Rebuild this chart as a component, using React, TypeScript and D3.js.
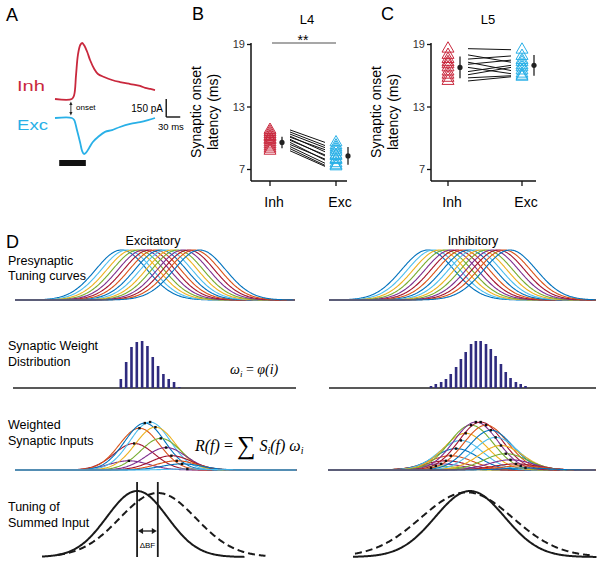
import React from "react";
import * as d3 from "d3";

const FONT = "'Liberation Sans', Arial, Helvetica, sans-serif";
const SERIF = "'Liberation Serif', 'DejaVu Serif', serif";
const RED = "#c9283d";
const CYAN = "#29b0e7";
const NAVY = "#2f2b7e";
const MATLAB = ["#0072BD", "#4DBEEE", "#EDB120", "#77AC30", "#7E2F8E", "#A2142F", "#D95319"];

// Panel A: example currents (time in ms, current in pA)
const inhTime = [0, 36, 41, 45, 49, 54, 58, 62, 69, 75, 84, 92, 105, 122, 139, 161, 182, 193, 204, 214];
const inhCurrent = [0, 0, 32, 189, 347, 426, 442, 426, 371, 308, 237, 197, 174, 150, 134, 118, 103, 87, 79, 71];
const excTime = [0, 36, 41, 47, 54, 58, 62, 66, 73, 81, 92, 107, 122, 139, 161, 182, 199, 214];
const excCurrent = [0, 0, -16, -95, -197, -260, -284, -276, -237, -189, -150, -110, -95, -71, -47, -32, -16, 0];

// Panels B, C: synaptic onset latency (ms)
const groups = ["Inh", "Exc"];
const latencyTicks = [7, 13, 19];
const l4Inh = [10.8, 10.6, 10.4, 10.2, 10.1, 9.9, 9.8, 9.6, 9.4, 9.2, 9.0, 8.8];
const l4Exc = [9.6, 9.3, 9.1, 8.7, 8.9, 8.3, 8.4, 7.9, 8.0, 7.6, 7.4, 7.3];
const l4Mean = [9.6, 8.3];
const l4Sem = [0.55, 0.85];
const l5Inh = [18.6, 18.0, 17.6, 17.3, 17.1, 16.8, 16.4, 16.1, 15.8, 15.5];
const l5Exc = [18.5, 17.3, 17.9, 16.5, 17.5, 16.2, 17.0, 16.8, 16.0, 15.9];
const l5Mean = [16.8, 17.0];
const l5Sem = [1.05, 1.0];

// Panel D: model (frequency in arbitrary units 0-50)
const excTuningCenters = [19, 20, 21, 22, 23, 24, 25, 26, 27, 28, 29, 30, 31, 32, 33];
const inhTuningCenters = [18.5, 19.6, 20.7, 21.8, 22.9, 24.0, 25.1, 26.2, 27.3, 28.4, 29.5, 30.6, 31.7, 32.8, 33.9];
const tuningSigma = [4.6, 4.9];
const excWeightCenters = [18.9, 19.85, 20.8, 21.75, 22.7, 23.65, 24.6, 25.55, 26.5, 27.45, 28.4, 29.35];
const excWeights = [9, 26, 41, 46, 47, 42, 31, 22, 14, 9, 6, 1];
const inhWeightCenters = [19.1, 20.0, 21.0, 21.9, 22.8, 23.8, 24.7, 25.6, 26.6, 27.5, 28.4, 29.4, 30.3, 31.2, 32.2, 33.1, 34.0, 35.0, 35.9, 36.8];
const inhWeights = [2, 4, 6, 9, 14, 21, 29, 36, 44, 47, 47, 44, 39, 32, 24, 16, 10, 6, 4, 2];
const inputSigma = [3.6, 4.1];
// summed tuning: [solid, dashed]
const excSumCenter = [21.8, 25.5];
const excSumSigma = [5.4, 6.8];
const excSumAmp = [1, 0.97];
const inhSumCenter = [26.4, 25.8];
const inhSumSigma = [6.5, 8.6];
const inhSumAmp = [1, 0.98];

const gauss = (f: number, c: number, s: number) => Math.exp(-((f - c) ** 2) / (2 * s * s));

function LatencyPanel(props: {
  letter: string; letterX: number; title: string; titleX: number;
  axisX: number; axisEnd: number; gx: [number, number];
  inh: number[]; exc: number[]; mean: number[]; sem: number[]; sig?: boolean;
}) {
  const { letter, letterX, title, titleX, axisX, axisEnd, gx, inh, exc, mean, sem, sig } = props;
  const y = d3.scaleLinear().domain([7, 19]).range([169.5, 44.5]);
  const x = d3.scalePoint<string>().domain(groups).range(gx);
  const tri = d3.symbol(d3.symbolTriangle, 62)()!;
  const baseY = 181;
  return (
    <g fontFamily={FONT}>
      <text x={letterX} y={20} fontSize={18}>{letter}</text>
      <text x={titleX} y={24} fontSize={13} textAnchor="middle">{title}</text>
      {sig && (
        <g>
          <line x1={x("Inh")! + 2} x2={x("Exc")!} y1={43} y2={43} stroke="#8a8a8a" strokeWidth={1.3} />
          <text x={(x("Inh")! + x("Exc")!) / 2} y={45} fontSize={14} textAnchor="middle">**</text>
        </g>
      )}
      <line x1={axisX} x2={axisX} y1={43} y2={baseY} stroke="#111" strokeWidth={1.5} />
      <line x1={axisX} x2={axisEnd} y1={baseY} y2={baseY} stroke="#111" strokeWidth={1.5} />
      {latencyTicks.map((t) => (
        <g key={t}>
          <line x1={axisX - 4} x2={axisX} y1={y(t)} y2={y(t)} stroke="#111" strokeWidth={1.3} />
          <text x={axisX - 6} y={y(t)} dy="0.36em" fontSize={11} textAnchor="end" fill="#333">{t}</text>
        </g>
      ))}
      {groups.map((g) => (
        <g key={g}>
          <line x1={x(g)} x2={x(g)} y1={baseY} y2={baseY + 5} stroke="#111" strokeWidth={1.3} />
          <text x={x(g)! + 4} y={207} fontSize={14} textAnchor="middle">{g}</text>
        </g>
      ))}
      <text transform={`translate(${axisX - 50},112) rotate(-90)`} fontSize={14} textAnchor="middle">Synaptic onset</text>
      <text transform={`translate(${axisX - 33},112) rotate(-90)`} fontSize={14} textAnchor="middle">latency (ms)</text>
      {inh.map((v, i) => (
        <line key={"l" + i} x1={x("Inh")! + 20} x2={x("Exc")! - 11} y1={y(v)} y2={y(exc[i])} stroke="#111" strokeWidth={1} />
      ))}
      {inh.map((v, i) => (
        <path key={"ti" + i} d={tri} transform={`translate(${x("Inh")},${y(v)})`} fill="none" stroke={RED} strokeWidth={1} />
      ))}
      {exc.map((v, i) => (
        <path key={"te" + i} d={tri} transform={`translate(${x("Exc")},${y(v)})`} fill="none" stroke={CYAN} strokeWidth={1} />
      ))}
      {groups.map((g, i) => (
        <g key={"m" + g}>
          <line x1={x(g)! + 12} x2={x(g)! + 12} y1={y(mean[i] - sem[i])} y2={y(mean[i] + sem[i])} stroke="#222" strokeWidth={1.3} />
          <circle cx={x(g)! + 12} cy={y(mean[i])} r={2.6} fill="#222" />
        </g>
      ))}
    </g>
  );
}

export default function App() {
  // ---- Panel A
  const xA = d3.scaleLinear().domain([0, 214]).range([55, 155]);
  const yInh = d3.scaleLinear().domain([0, 150]).range([99, 80]);
  const yExc = d3.scaleLinear().domain([0, 150]).range([118, 99]);
  const inhPath = d3.line<number>().x((_, i) => xA(inhTime[i])).y((d) => yInh(d)).curve(d3.curveCatmullRom)(inhCurrent)!;
  const excPath = d3.line<number>().x((_, i) => xA(excTime[i])).y((d) => yExc(d)).curve(d3.curveCatmullRom)(excCurrent)!;
  const onsetX = xA(34);

  // ---- Panel D scales
  const xE = d3.scaleLinear().domain([0, 50]).range([15, 295]);
  const xI = d3.scaleLinear().domain([0, 50]).range([329, 596]);
  const xE3 = d3.scaleLinear().domain([0, 50]).range([23, 303]);
  const y1 = d3.scaleLinear().domain([0, 1]).range([300, 250]);
  const y2 = d3.scaleLinear().domain([0, 50]).range([388, 338]);
  const y3 = d3.scaleLinear().domain([0, 50]).range([470, 419]);
  const y4 = d3.scaleLinear().domain([0, 1]).range([557, 491]);

  const sample = (x: d3.ScaleLinear<number, number>, px0: number, px1: number) =>
    d3.range(x.invert(px0), x.invert(px1) + 0.001, 0.15);

  const curve = (x: d3.ScaleLinear<number, number>, y: d3.ScaleLinear<number, number>, fs: number[], fn: (f: number) => number) =>
    d3.line<number>().x((f) => x(f)).y((f) => y(fn(f)))(fs)!;

  const fsE1 = sample(xE, 15, 295);
  const fsI1 = sample(xI, 329, 596);
  const fsE3 = sample(xE3, 15, 297);
  const fsI3 = sample(xI, 328, 596);

  return (
    <svg width={602} height={565} style={{ position: "absolute", left: 0, top: 0, background: "#fff" }} fontFamily={FONT}>
      {/* Panel A */}
      <g>
        <text x={6} y={21} fontSize={18}>A</text>
        <text x={17} y={91} fontSize={14} fill={RED} textLength={28} lengthAdjust="spacingAndGlyphs">Inh</text>
        <text x={17} y={130} fontSize={14} fill={CYAN} textLength={31} lengthAdjust="spacingAndGlyphs">Exc</text>
        <path d={inhPath} fill="none" stroke={RED} strokeWidth={1.8} />
        <path d={excPath} fill="none" stroke={CYAN} strokeWidth={1.8} />
        <line x1={onsetX} x2={onsetX} y1={104} y2={113} stroke="#222" strokeWidth={0.9} />
        <path d={`M${onsetX - 1.6},${105} L${onsetX + 1.6},${105} L${onsetX},${101.5} Z`} fill="#222" />
        <path d={`M${onsetX - 1.6},${112} L${onsetX + 1.6},${112} L${onsetX},${115.5} Z`} fill="#222" />
        <text x={76} y={110} fontSize={8}>onset</text>
        <line x1={xA(238)} x2={xA(238)} y1={yExc(150)} y2={yExc(0) - 1} stroke="#111" strokeWidth={1.4} />
        <line x1={xA(238)} x2={xA(268)} y1={yExc(0) - 1} y2={yExc(0) - 1} stroke="#111" strokeWidth={1.4} />
        <text x={163} y={112} fontSize={10} textAnchor="end">150 pA</text>
        <text x={158} y={130} fontSize={9.5}>30 ms</text>
        <rect x={xA(9)} y={160} width={xA(66) - xA(9)} height={6} fill="#111" />
      </g>

      <LatencyPanel letter="B" letterX={192} title="L4" titleX={307} axisX={251} axisEnd={347}
        gx={[270, 336]} inh={l4Inh} exc={l4Exc} mean={l4Mean} sem={l4Sem} sig />
      <LatencyPanel letter="C" letterX={381} title="L5" titleX={488} axisX={431} axisEnd={536}
        gx={[448, 522]} inh={l5Inh} exc={l5Exc} mean={l5Mean} sem={l5Sem} />

      {/* Panel D */}
      <g fontSize={12.5}>
        <text x={6} y={248} fontSize={18}>D</text>
        <text x={153} y={245} textAnchor="middle">Excitatory</text>
        <text x={473} y={245} textAnchor="middle">Inhibitory</text>
        <text x={8} y={265}>Presynaptic</text>
        <text x={8} y={280}>Tuning curves</text>
        <text x={8} y={350}>Synaptic Weight</text>
        <text x={8} y={366}>Distribution</text>
        <text x={8} y={429}>Weighted</text>
        <text x={8} y={445}>Synaptic Inputs</text>
        <text x={8} y={511}>Tuning of</text>
        <text x={8} y={527}>Summed Input</text>

        {/* row 1: tuning curves */}
        {excTuningCenters.map((c, i) => (
          <path key={"e1" + i} d={curve(xE, y1, fsE1, (f) => gauss(f, c, tuningSigma[0]))}
            fill="none" stroke={MATLAB[i % MATLAB.length]} strokeWidth={1.1} />
        ))}
        {inhTuningCenters.map((c, i) => (
          <path key={"i1" + i} d={curve(xI, y1, fsI1, (f) => gauss(f, c, tuningSigma[1]))}
            fill="none" stroke={MATLAB[i % MATLAB.length]} strokeWidth={1.1} />
        ))}

        {/* row 2: weights */}
        <line x1={13} x2={296} y1={y2(0)} y2={y2(0)} stroke="#222" strokeWidth={1.6} />
        <line x1={329} x2={596} y1={y2(0)} y2={y2(0)} stroke="#222" strokeWidth={1.6} />
        {excWeights.map((w, i) => (
          <rect key={"ew" + i} x={xE(excWeightCenters[i]) - 1.3} width={2.6} y={y2(w)} height={y2(0) - y2(w)} fill={NAVY} />
        ))}
        {inhWeights.map((w, i) => (
          <rect key={"iw" + i} x={xI(inhWeightCenters[i]) - 1.3} width={2.6} y={y2(w)} height={y2(0) - y2(w)} fill={NAVY} />
        ))}
        <text x={230} y={374} fontFamily={SERIF} fontSize={14} fontStyle="italic">
          ω<tspan fontSize={9} dy={3}>i</tspan><tspan dy={-3} fontStyle="normal"> = </tspan>φ(i)
        </text>

        {/* row 3: weighted inputs */}
        {excWeights.map((w, i) => (
          <path key={"e3" + i} d={curve(xE3, y3, fsE3, (f) => w * gauss(f, excWeightCenters[i], inputSigma[0]))}
            fill="none" stroke={MATLAB[(i + 4) % MATLAB.length]} strokeWidth={1.1} />
        ))}
        {inhWeights.map((w, i) => (
          <path key={"i3" + i} d={curve(xI, y3, fsI3, (f) => w * gauss(f, inhWeightCenters[i], inputSigma[1]))}
            fill="none" stroke={MATLAB[(i + 2) % MATLAB.length]} strokeWidth={1.1} />
        ))}
        {excWeights.map((w, i) => (
          <rect key={"ed" + i} x={xE3(excWeightCenters[i]) - 1.2} y={y3(w) - 1.2} width={2.4} height={2.4} fill="#111" />
        ))}
        {inhWeights.map((w, i) => (
          <rect key={"id" + i} x={xI(inhWeightCenters[i]) - 1.2} y={y3(w) - 1.2} width={2.4} height={2.4} fill="#111" />
        ))}
        <text x={195} y={451} fontFamily={SERIF} fontSize={16} fontStyle="italic">
          R(f)<tspan fontStyle="normal"> = </tspan>
          <tspan fontStyle="normal" fontSize={26} dy={3}>∑</tspan>
          <tspan dy={-3}> S</tspan><tspan fontSize={10} dy={3}>i</tspan>
          <tspan dy={-3}>(f) ω</tspan><tspan fontSize={10} dy={3}>i</tspan>
        </text>

        {/* row 4: summed tuning */}
        {[0, 1].map((k) => (
          <path key={"e4" + k}
            d={curve(xE, y4, k === 0 ? sample(xE, 42, 245) : sample(xE, 58, 266),
              (f) => excSumAmp[k] * gauss(f, excSumCenter[k], excSumSigma[k]))}
            fill="none" stroke="#1a1a1a" strokeWidth={2} strokeDasharray={k === 1 ? "7,4" : undefined} />
        ))}
        {[0, 1].map((k) => (
          <path key={"i4" + k}
            d={curve(xI, y4, k === 0 ? sample(xI, 353, 597) : sample(xI, 355, 590),
              (f) => inhSumAmp[k] * gauss(f, inhSumCenter[k], inhSumSigma[k]))}
            fill="none" stroke="#1a1a1a" strokeWidth={2} strokeDasharray={k === 1 ? "7,4" : undefined} />
        ))}
        {excSumCenter.map((c, k) => (
          <line key={"v" + k} x1={xE(c)} x2={xE(c)} y1={482} y2={y4(0)} stroke="#1a1a1a" strokeWidth={1.8} />
        ))}
        <line x1={xE(excSumCenter[0]) + 4} x2={xE(excSumCenter[1]) - 4} y1={531} y2={531} stroke="#1a1a1a" strokeWidth={1.3} />
        <path d={`M${xE(excSumCenter[0]) + 1},531 l5,-3 l0,6 Z`} fill="#1a1a1a" />
        <path d={`M${xE(excSumCenter[1]) - 1},531 l-5,-3 l0,6 Z`} fill="#1a1a1a" />
        <text x={(xE(excSumCenter[0]) + xE(excSumCenter[1])) / 2} y={548} fontSize={8} textAnchor="middle">ΔBF</text>
      </g>
    </svg>
  );
}
